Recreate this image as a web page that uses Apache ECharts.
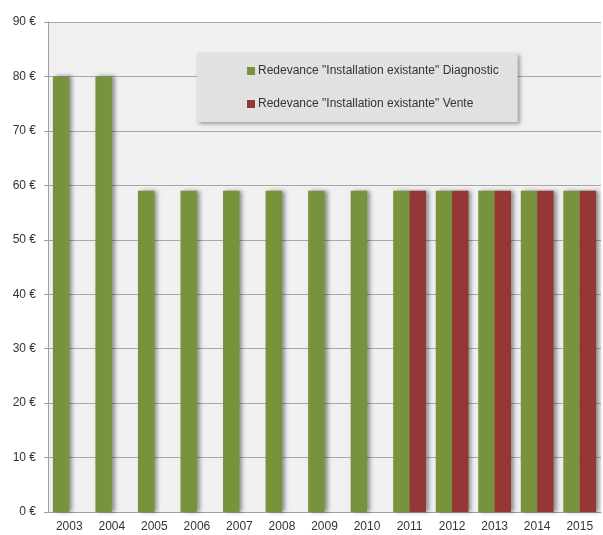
<!DOCTYPE html>
<html>
<head>
<meta charset="utf-8">
<script src="https://cdn.jsdelivr.net/npm/echarts@6/dist/echarts.min.js"></script>
<style>
  html, body { margin: 0; padding: 0; background: #ffffff; }
  #chart { width: 603px; height: 535px; }
</style>
</head>
<body>
<div id="chart"></div>
<script>
// Redevance annuelle par année (en euros)
const years = ['2003', '2004', '2005', '2006', '2007', '2008', '2009', '2010', '2011', '2012', '2013', '2014', '2015'];
const diagnostic = [80, 80, 59, 59, 59, 59, 59, 59, 59, 59, 59, 59, 59];
const vente = [null, null, null, null, null, null, null, null, 59, 59, 59, 59, 59];
const seriesNames = [
  'Redevance "Installation existante" Diagnostic',
  'Redevance "Installation existante" Vente'
];

const chart = echarts.init(document.getElementById('chart'));
const font = 'Liberation Sans, Arial, sans-serif';
const barShadow = {
  shadowColor: 'rgba(0,0,0,0.4)',
  shadowBlur: 4,
  shadowOffsetX: 3,
  shadowOffsetY: 0
};

chart.setOption({
  animation: false,
  backgroundColor: '#ffffff',
  textStyle: { fontFamily: font },
  grid: {
    left: 48, right: 2, top: 22, bottom: 23,
    show: true, backgroundColor: '#f0f0f0', borderWidth: 0
  },
  legend: {
    orient: 'vertical',
    left: 197, top: 53,
    padding: [12, 19, 12, 50],
    itemGap: 21,
    itemWidth: 8, itemHeight: 8,
    icon: 'rect',
    backgroundColor: '#e1e1e1',
    shadowColor: 'rgba(0,0,0,0.35)',
    shadowBlur: 4,
    shadowOffsetX: 2,
    shadowOffsetY: 2,
    textStyle: { fontFamily: font, fontSize: 12, color: '#333333', padding: [0, 0, 0, -2] },
    data: seriesNames
  },
  xAxis: {
    type: 'category',
    data: years,
    axisLine: { lineStyle: { color: '#a0a0a0' } },
    axisTick: { length: 4, lineStyle: { color: '#a0a0a0' } },
    axisLabel: { color: '#333333', fontSize: 12, margin: 9, fontFamily: font }
  },
  yAxis: {
    type: 'value',
    min: 0, max: 90, interval: 10,
    axisLine: { show: true, lineStyle: { color: '#a0a0a0' } },
    axisTick: { show: true, length: 4, lineStyle: { color: '#a0a0a0' } },
    axisLabel: { color: '#333333', fontSize: 12, margin: 12, fontFamily: font, formatter: '{value} €' },
    splitLine: { lineStyle: { color: '#a8a8a8' } }
  },
  series: [
    {
      name: seriesNames[0],
      type: 'bar',
      data: diagnostic,
      barGap: '0%',
      barCategoryGap: '23%',
      itemStyle: Object.assign({ color: '#77933c' }, barShadow)
    },
    {
      name: seriesNames[1],
      type: 'bar',
      data: vente,
      barGap: '0%',
      barCategoryGap: '23%',
      itemStyle: Object.assign({ color: '#953735' }, barShadow)
    }
  ]
});
</script>
</body>
</html>
